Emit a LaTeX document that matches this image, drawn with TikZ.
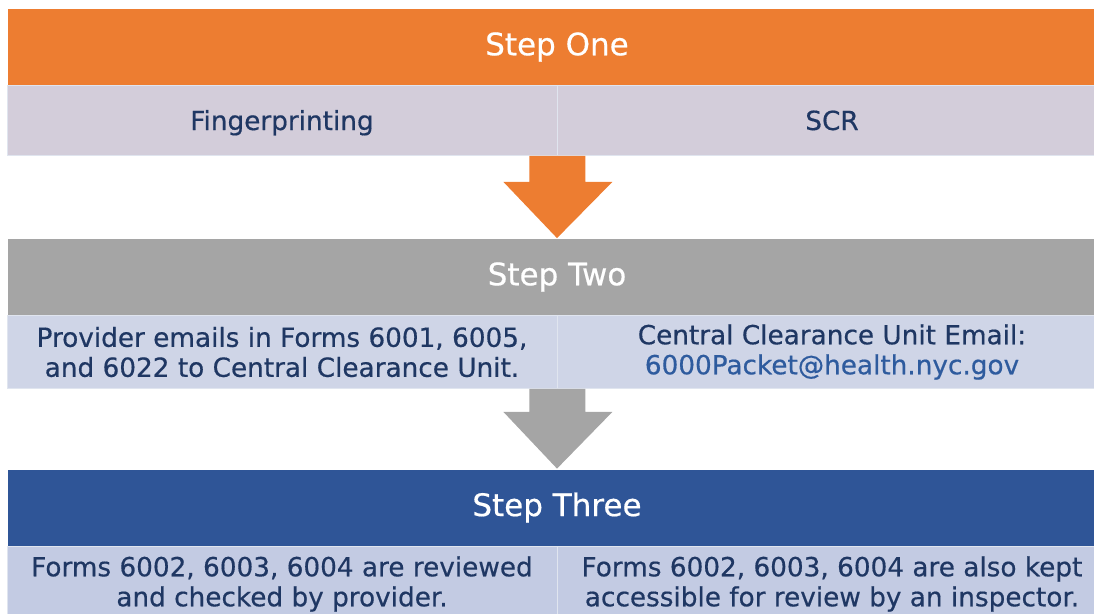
\documentclass[tikz,border=0pt]{standalone}
\usepackage{fontspec}
\usetikzlibrary{calc}
\setmainfont{DejaVu Sans}[FakeBold=0.5]
\definecolor{cOrange}{HTML}{ED7D31}
\definecolor{cRowA}{HTML}{D3CDDA}
\definecolor{cGray}{HTML}{A5A5A5}
\definecolor{cRowB}{HTML}{CFD5E7}
\definecolor{cBlue}{HTML}{2F5597}
\definecolor{cRowC}{HTML}{C3CBE3}
\definecolor{cText}{HTML}{1F3763}
\definecolor{cLink}{HTML}{2E5B9E}
\tikzset{
  header/.style={rectangle, inner sep=0pt, minimum width=1100pt, minimum height=77pt,
    text=white, font=\fontsize{31}{36}\selectfont, draw=white, line width=0.8pt},
  cell/.style={rectangle, inner sep=0pt, minimum width=550pt, align=center,
    text=cText, font=\fontsize{26.3}{30}\selectfont, draw=white!85!cBlue, line width=0.8pt},
  oneline/.style={text height=19pt, text depth=0pt},
}
\begin{document}
\begin{tikzpicture}[x=1pt,y=-1pt]
\useasboundingbox (0,0) rectangle (1094,613);
\clip (0,0) rectangle (1094,613);
% Step one
\node[header, fill=cOrange] (h1) at (557,47) {Step One};
\node[cell, oneline, minimum height=70pt, fill=cRowA] (a1) at (282,120.5) {Fingerprinting};
\node[cell, oneline, minimum height=70pt, fill=cRowA] (b1) at (832,120.5) {SCR};
% Step two
\node[header, fill=cGray] (h2) at (557,277) {Step Two};
\node[cell, minimum height=73pt, fill=cRowB] (a2) at (282,352) {Provider emails in Forms 6001, 6005,\\and 6022 to Central Clearance Unit.};
\node[cell, minimum height=73pt, fill=cRowB] (b2) at (832,352) {Central Clearance Unit Email:\\\textcolor{cLink}{6000Packet@health.nyc.gov}};
% Step three
\node[header, fill=cBlue] (h3) at (557,507.5) {Step Three};
\node[cell, minimum height=76pt, fill=cRowC] (a3) at (282,584) {Forms 6002, 6003, 6004 are reviewed\\and checked by provider.};
\node[cell, minimum height=76pt, fill=cRowC] (b3) at (832,584) {Forms 6002, 6003, 6004 are also kept\\accessible for review by an inspector.};
% arrows
\coordinate (t1) at (a1.south east);
\fill[cOrange] ($(t1)+(-28,0)$) -- ($(t1)+(-28,26)$) -- ($(t1)+(-54,26)$) -- (h2.north) -- ($(t1)+(55,26)$) -- ($(t1)+(28,26)$) -- ($(t1)+(28,0)$) -- cycle;
\coordinate (t2) at (a2.south east);
\fill[cGray] ($(t2)+(-28,0)$) -- ($(t2)+(-28,23)$) -- ($(t2)+(-54,23)$) -- (h3.north) -- ($(t2)+(55,23)$) -- ($(t2)+(28,23)$) -- ($(t2)+(28,0)$) -- cycle;
\end{tikzpicture}
\end{document}
